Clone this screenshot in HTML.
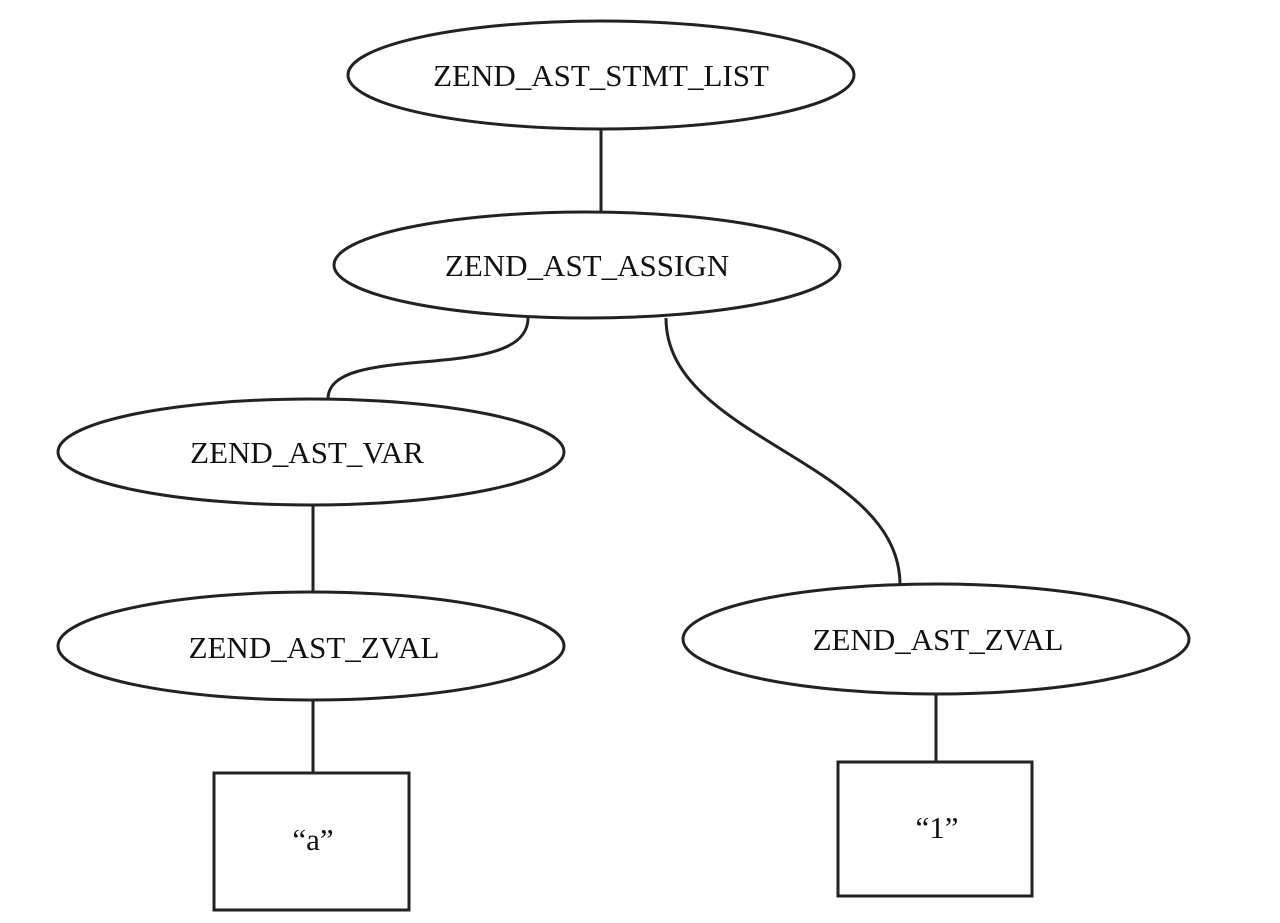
<!DOCTYPE html>
<html><head><meta charset="utf-8"><style>
html,body{margin:0;padding:0;background:#fff;}
svg{display:block;}
text{font-family:"Liberation Serif",serif;font-size:31px;fill:#111;}
</style></head><body>
<svg width="1280" height="923" viewBox="0 0 1280 923" xmlns="http://www.w3.org/2000/svg">
<g fill="none" stroke="#222" stroke-width="3">
<ellipse cx="601" cy="75" rx="253" ry="54"/>
<ellipse cx="587" cy="265" rx="253" ry="53"/>
<ellipse cx="311" cy="452" rx="253" ry="53"/>
<ellipse cx="311" cy="646" rx="253" ry="54"/>
<ellipse cx="936" cy="639" rx="253" ry="55"/>
<rect x="214" y="773" width="195" height="137"/>
<rect x="838" y="762" width="194" height="134"/>
<line x1="601" y1="129" x2="601" y2="212"/>
<path d="M528,318 C528,385 328,340 328,399"/>
<path d="M666,318 C666,440 900,460 900,585"/>
<line x1="313" y1="505" x2="313" y2="592"/>
<line x1="313" y1="700" x2="313" y2="773"/>
<line x1="936" y1="694" x2="936" y2="762"/>
</g>
<g text-anchor="middle">
<text x="601" y="86">ZEND_AST_STMT_LIST</text>
<text x="587" y="276">ZEND_AST_ASSIGN</text>
<text x="307" y="463">ZEND_AST_VAR</text>
<text x="314" y="658">ZEND_AST_ZVAL</text>
<text x="938" y="650">ZEND_AST_ZVAL</text>
<text x="313" y="850">“a”</text>
<text x="937" y="838">“1”</text>
</g>
</svg>
</body></html>
